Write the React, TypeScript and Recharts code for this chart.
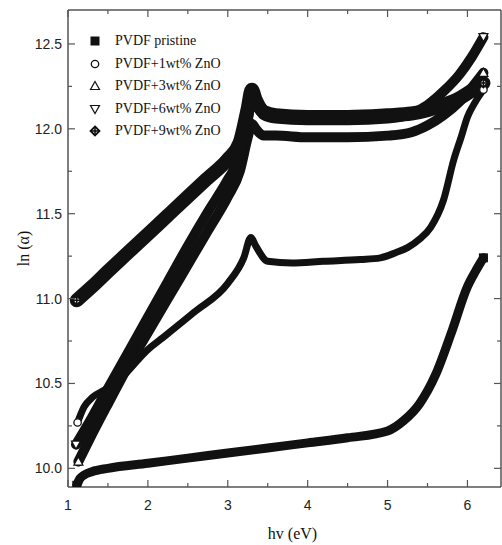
import { LineChart, Line, XAxis, YAxis, Legend } from 'recharts'

// photon energy (eV) and ln(alpha)
const pristineX = [1.11, 1.15, 1.2, 1.3, 1.5, 2.0, 2.5, 3.0, 3.5, 4.0, 4.5, 5.0, 5.2, 5.4, 5.6, 5.8, 6.0, 6.1, 6.2]
const pristineY = [9.9, 9.94, 9.96, 9.98, 10.0, 10.03, 10.06, 10.09, 10.12, 10.15, 10.18, 10.22, 10.28, 10.38, 10.55, 10.8, 11.07, 11.16, 11.24]

const zno1X = [1.12, 1.2, 1.31, 1.45, 1.66, 2.0, 2.16, 2.58, 3.0, 3.2, 3.29, 3.35, 3.5, 3.8, 4.2, 4.66, 4.91, 5.1, 5.25, 5.4, 5.54, 5.7, 5.83, 5.92, 6.0, 6.1, 6.2]
const zno1Y = [10.27, 10.36, 10.42, 10.46, 10.53, 10.7, 10.76, 10.92, 11.09, 11.24, 11.36, 11.31, 11.22, 11.21, 11.22, 11.23, 11.24, 11.27, 11.3, 11.35, 11.42, 11.58, 11.82, 11.95, 12.07, 12.16, 12.23]

const zno3X = [1.13, 1.3, 1.5, 1.75, 2.0, 2.25, 2.5, 2.75, 3.0, 3.15, 3.25, 3.3, 3.35, 3.45, 3.6, 4.0, 4.5, 5.0, 5.3, 5.5, 5.7, 5.9, 6.05, 6.2]
const zno3Y = [10.04, 10.2, 10.38, 10.6, 10.8, 11.0, 11.2, 11.4, 11.6, 11.75, 11.95, 12.03, 12.0, 11.96, 11.96, 11.95, 11.95, 11.96, 11.98, 12.02, 12.08, 12.16, 12.24, 12.33]

const zno6X = [1.1, 1.3, 1.5, 1.75, 2.0, 2.25, 2.5, 2.75, 3.0, 3.15, 3.25, 3.3, 3.35, 3.45, 3.6, 4.0, 4.5, 5.0, 5.3, 5.5, 5.7, 5.9, 6.05, 6.2]
const zno6Y = [10.14, 10.3, 10.47, 10.68, 10.89, 11.1, 11.31, 11.51, 11.7, 11.84, 12.05, 12.18, 12.15, 12.08, 12.06, 12.05, 12.05, 12.06, 12.09, 12.14, 12.22, 12.32, 12.42, 12.54]

const zno9X = [1.11, 1.3, 1.5, 1.75, 2.0, 2.25, 2.5, 2.75, 3.0, 3.15, 3.25, 3.3, 3.35, 3.45, 3.6, 4.0, 4.5, 5.0, 5.3, 5.5, 5.7, 5.9, 6.1, 6.2]
const zno9Y = [10.99, 11.07, 11.16, 11.27, 11.38, 11.49, 11.6, 11.71, 11.82, 11.92, 12.12, 12.23, 12.17, 12.1, 12.08, 12.07, 12.07, 12.08, 12.09, 12.11, 12.14, 12.18, 12.24, 12.27]

const xTicks = [1, 1.5, 2, 2.5, 3, 3.5, 4, 4.5, 5, 5.5, 6]
const yTicks = [10, 10.25, 10.5, 10.75, 11, 11.25, 11.5, 11.75, 12, 12.25, 12.5]

const legendNames = ['PVDF pristine', 'PVDF+1wt% ZnO', 'PVDF+3wt% ZnO', 'PVDF+6wt% ZnO', 'PVDF+9wt% ZnO']

const toPoints = (xs: number[], ys: number[]) => xs.map((x, i) => ({ x, y: ys[i] }))

const series = [
  { name: legendNames[0], shape: 'square', width: 9, data: toPoints(pristineX, pristineY) },
  { name: legendNames[1], shape: 'circle', width: 7, data: toPoints(zno1X, zno1Y) },
  { name: legendNames[2], shape: 'triangle', width: 10, data: toPoints(zno3X, zno3Y) },
  { name: legendNames[3], shape: 'triangleDown', width: 10, data: toPoints(zno6X, zno6Y) },
  { name: legendNames[4], shape: 'crossDiamond', width: 14, data: toPoints(zno9X, zno9Y) },
]

const AXIS = '#555'
const INK = '#111'
const SANS = '"Liberation Sans", Arial, sans-serif'
const SERIF = '"Liberation Serif", "Times New Roman", serif'

function Marker({ shape, x, y, s = 9 }: { shape: string; x: number; y: number; s?: number }) {
  const h = s / 2
  if (shape === 'square') return <rect x={x - h} y={y - h} width={s} height={s} fill={INK} />
  if (shape === 'circle') return <circle cx={x} cy={y} r={h - 0.8} fill="#fff" stroke={INK} strokeWidth={1.3} />
  if (shape === 'triangle')
    return <polygon points={`${x},${y - h} ${x + h},${y + h - 1} ${x - h},${y + h - 1}`} fill="#fff" stroke={INK} strokeWidth={1.2} />
  if (shape === 'triangleDown')
    return <polygon points={`${x - h},${y - h + 1} ${x + h},${y - h + 1} ${x},${y + h}`} fill="#fff" stroke={INK} strokeWidth={1.2} />
  return (
    <g>
      <polygon points={`${x},${y - h} ${x + h},${y} ${x},${y + h} ${x - h},${y}`} fill="#fff" stroke={INK} strokeWidth={1.8} />
      <line x1={x - h} x2={x + h} y1={y} y2={y} stroke={INK} strokeWidth={1.6} />
      <line x1={x} x2={x} y1={y - h} y2={y + h} stroke={INK} strokeWidth={1.6} />
    </g>
  )
}

// markers only at both ends of each band
const endDot = (shape: string, n: number) => (p: any) => {
  if (p.index !== 0 && p.index !== n - 1) return <g key={p.index} />
  return (
    <g key={p.index}>
      <Marker shape={shape} x={p.cx} y={p.cy} />
    </g>
  )
}

function BottomTick({ x, y, payload }: any) {
  const major = Number.isInteger(payload.value)
  return (
    <g>
      <line x1={x} x2={x} y1={y} y2={y - (major ? 7 : 4)} stroke={AXIS} strokeWidth={1.2} />
      {major && (
        <text x={x} y={y + 23} textAnchor="middle" fontSize={14} fontFamily={SANS} fill="#222">
          {payload.value}
        </text>
      )}
    </g>
  )
}

function TopTick({ x, y, payload }: any) {
  const major = Number.isInteger(payload.value)
  return <line x1={x} x2={x} y1={y} y2={y + (major ? 7 : 4)} stroke={AXIS} strokeWidth={1.2} />
}

function LeftTick({ x, y, payload }: any) {
  const major = Number.isInteger(payload.value * 2)
  return (
    <g>
      <line x1={x} x2={x + (major ? 7 : 4)} y1={y} y2={y} stroke={AXIS} strokeWidth={1.2} />
      {major && (
        <text x={x - 6} y={y + 5} textAnchor="end" fontSize={14} fontFamily={SANS} fill="#222">
          {payload.value.toFixed(1)}
        </text>
      )}
    </g>
  )
}

function RightTick({ x, y, payload }: any) {
  const major = Number.isInteger(payload.value * 2)
  return <line x1={x} x2={x - (major ? 7 : 4)} y1={y} y2={y} stroke={AXIS} strokeWidth={1.2} />
}

function LegendBox() {
  return (
    <div style={{ fontFamily: SERIF, fontSize: 14, color: INK, lineHeight: '22.5px' }}>
      {series.map((s) => (
        <div key={s.name} style={{ display: 'flex', alignItems: 'center' }}>
          <svg width={22} height={14} style={{ marginRight: 7 }}>
            <Marker shape={s.shape} x={9} y={7} s={9} />
          </svg>
          <span>{s.name}</span>
        </div>
      ))}
    </div>
  )
}

export default function App() {
  return (
    <div style={{ position: 'absolute', left: 0, top: 0, width: 502, height: 545, background: '#fff' }}>
      <LineChart width={502} height={545} margin={{ top: 9, right: 0, bottom: 0, left: 0 }}>
        <XAxis
          type="number"
          dataKey="x"
          domain={[1, 6.42]}
          ticks={xTicks}
          allowDataOverflow
          height={58}
          tickSize={0}
          tickMargin={0}
          tick={<BottomTick />}
          axisLine={{ stroke: AXIS, strokeWidth: 1.5 }}
          label={{ value: 'hv (eV)', position: 'insideBottom', offset: 6, dx: 8, style: { fontFamily: SERIF, fontSize: 16, fill: INK } }}
        />
        <XAxis
          xAxisId="top"
          orientation="top"
          type="number"
          dataKey="x"
          domain={[1, 6.42]}
          ticks={xTicks}
          allowDataOverflow
          height={1}
          tickSize={0}
          tickMargin={0}
          tick={<TopTick />}
          axisLine={{ stroke: AXIS, strokeWidth: 1.5 }}
        />
        <YAxis
          type="number"
          domain={[9.89, 12.7]}
          ticks={yTicks}
          allowDataOverflow
          width={68}
          tickSize={0}
          tickMargin={0}
          tick={<LeftTick />}
          axisLine={{ stroke: AXIS, strokeWidth: 1.5 }}
          label={{ value: 'ln (α)', angle: -90, position: 'insideLeft', offset: 23, style: { fontFamily: SERIF, fontSize: 16, fill: INK, textAnchor: 'middle' } }}
        />
        <YAxis
          yAxisId="right"
          orientation="right"
          type="number"
          domain={[9.89, 12.7]}
          ticks={yTicks}
          allowDataOverflow
          width={1}
          tickSize={0}
          tickMargin={0}
          tick={<RightTick />}
          axisLine={{ stroke: AXIS, strokeWidth: 1.5 }}
        />
        <Legend
          layout="horizontal"
          verticalAlign="middle"
          align="center"
          wrapperStyle={{ left: 86, top: 30, width: 'auto', height: 'auto' }}
          content={<LegendBox />}
        />
        {series.map((s) => (
          <Line
            key={s.name}
            name={s.name}
            data={s.data}
            dataKey="y"
            type="monotone"
            stroke={INK}
            strokeWidth={s.width}
            strokeLinecap="round"
            strokeLinejoin="round"
            dot={endDot(s.shape, s.data.length)}
            activeDot={false}
            isAnimationActive={false}
          />
        ))}
      </LineChart>
    </div>
  )
}
